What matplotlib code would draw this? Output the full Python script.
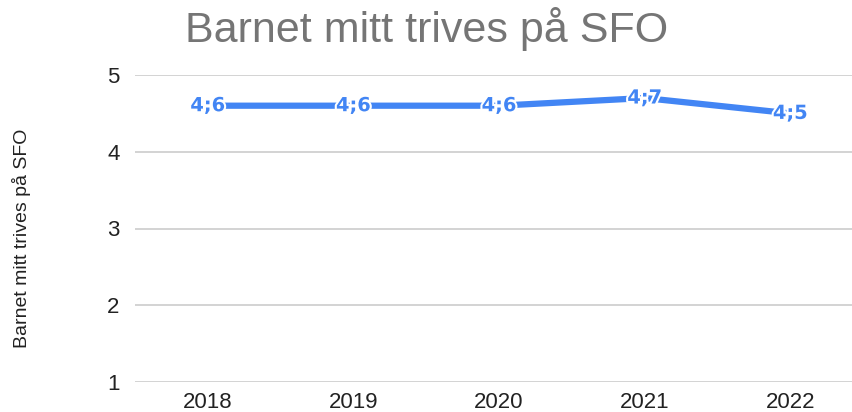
import matplotlib.pyplot as plt
import matplotlib.patheffects as pe

# Data
years = ["2018", "2019", "2020", "2021", "2022"]
scores = [4.6, 4.6, 4.6, 4.7, 4.5]
labels = ["4;6", "4;6", "4;6", "4;7", "4;5"]

plt.rcParams['font.family'] = ['Liberation Sans', 'DejaVu Sans']

fig = plt.figure(figsize=(8.53, 4.12), dpi=100)
ax = fig.add_axes([135 / 853, 30 / 412, 718 / 853, 307 / 412])

x = list(range(len(years)))
ax.plot(x, scores, color='#4285f4', lw=4.5, solid_capstyle='butt', zorder=3)

for xi, yi, lab in zip(x, scores, labels):
    ax.text(xi, yi, lab, ha='center', va='center', color='#4285f4',
            fontsize=14, fontweight='bold', family='DejaVu Sans',
            zorder=4,
            path_effects=[pe.withStroke(linewidth=3, foreground='white')])

ax.set_xlim(-0.5, 4.43)
ax.set_ylim(1, 5)
ax.set_yticks([1, 2, 3, 4, 5])
ax.set_xticks(x)
ax.set_xticklabels(years)
ax.tick_params(axis='both', length=0, labelsize=16, colors='#222222')
ax.tick_params(axis='y', pad=11)
ax.tick_params(axis='x', pad=7)
ax.grid(axis='y', color='#cccccc', lw=1.2)
ax.set_axisbelow(True)
for s in ax.spines.values():
    s.set_visible(False)

fig.text(0.5, 1 - 42 / 412, "Barnet mitt trives på SFO", ha='center',
         va='baseline', fontsize=31, color='#757575')
fig.text(22 / 853, 1 - 238 / 412, "Barnet mitt trives på SFO", rotation=90,
         ha='center', va='center', fontsize=14, color='#222222')

fig.savefig("out.png", dpi=100)
